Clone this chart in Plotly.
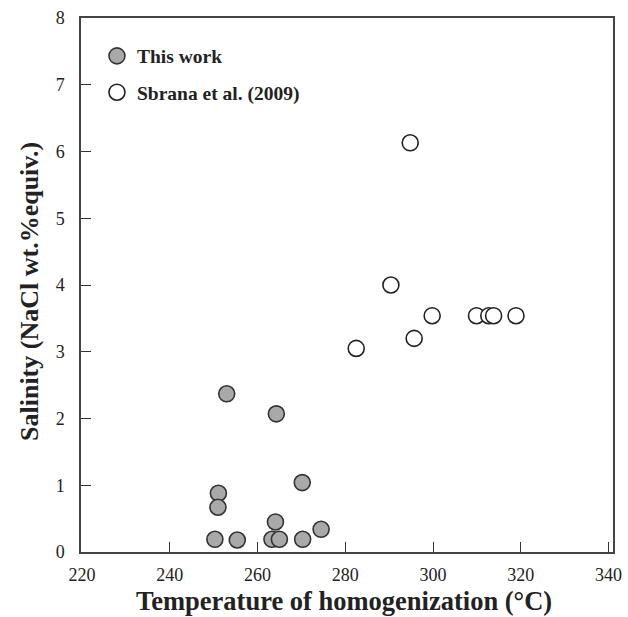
import plotly.graph_objects as go

# This work (filled grey)
this_T = [253.0, 264.3, 270.2, 251.1, 251.0, 264.1, 274.5, 250.3, 255.4, 263.3, 265.0, 270.3]
this_S = [2.37, 2.07, 1.04, 0.88, 0.67, 0.45, 0.34, 0.19, 0.18, 0.19, 0.19, 0.19]

# Sbrana et al. (2009) (open)
sb_T = [294.8, 290.4, 299.8, 309.9, 312.7, 313.8, 318.9, 295.7, 282.5]
sb_S = [6.13, 4.00, 3.54, 3.54, 3.54, 3.54, 3.54, 3.20, 3.05]

x_ticks = [220, 240, 260, 280, 300, 320, 340]
y_ticks = [0, 1, 2, 3, 4, 5, 6, 7, 8]

x_title = "Temperature of homogenization (°C)"
y_title = "Salinity (NaCl wt.%equiv.)"

serif = "Liberation Serif, Times New Roman, serif"

fig = go.Figure()
fig.add_trace(go.Scatter(
    x=this_T, y=this_S, mode="markers", name="This work", legendgroup="a",
    marker=dict(size=16, color="#a9a9a9", line=dict(color="#333333", width=1.6)),
))
fig.add_trace(go.Scatter(
    x=sb_T, y=sb_S, mode="markers", name="Sbrana et al. (2009)", legendgroup="b",
    marker=dict(size=16, color="white", line=dict(color="#222222", width=1.6)),
))

axis_common = dict(
    showgrid=False, zeroline=False, showline=True, linecolor="#444444", linewidth=1.5,
    mirror=True, ticks="inside", ticklen=10, tickcolor="#333333", tickwidth=1.3,
    tickfont=dict(family=serif, size=18, color="#222222"), automargin=False,
)

fig.update_layout(
    width=628, height=617,
    margin=dict(l=81, r=15, t=18, b=65),
    paper_bgcolor="white", plot_bgcolor="white",
    showlegend=True,
    legend=dict(x=0.03, y=0.965, xanchor="left", yanchor="top",
                font=dict(family=serif, size=19.5, color="#222222", weight="bold"),
                bgcolor="rgba(0,0,0,0)", traceorder="grouped", tracegroupgap=8),
    xaxis=dict(range=[219.8, 341.0], tickvals=x_ticks, ticktext=[str(v) for v in x_ticks],
               ticklabelstandoff=6, **axis_common),
    yaxis=dict(range=[0, 8], tickvals=y_ticks, ticktext=[str(v) for v in y_ticks],
               ticklabelstandoff=11, **axis_common),
    annotations=[
        dict(text=x_title, xref="paper", yref="paper", x=0.494, y=-0.092,
             xanchor="center", yanchor="middle", showarrow=False,
             font=dict(family=serif, size=26.5, color="#222222", weight="bold")),
        dict(text=y_title, xref="paper", yref="paper", x=-0.0958, y=0.487,
             xanchor="center", yanchor="middle", showarrow=False, textangle=-90,
             font=dict(family=serif, size=26, color="#222222", weight="bold")),
    ],
)

fig.write_html("out.html")
